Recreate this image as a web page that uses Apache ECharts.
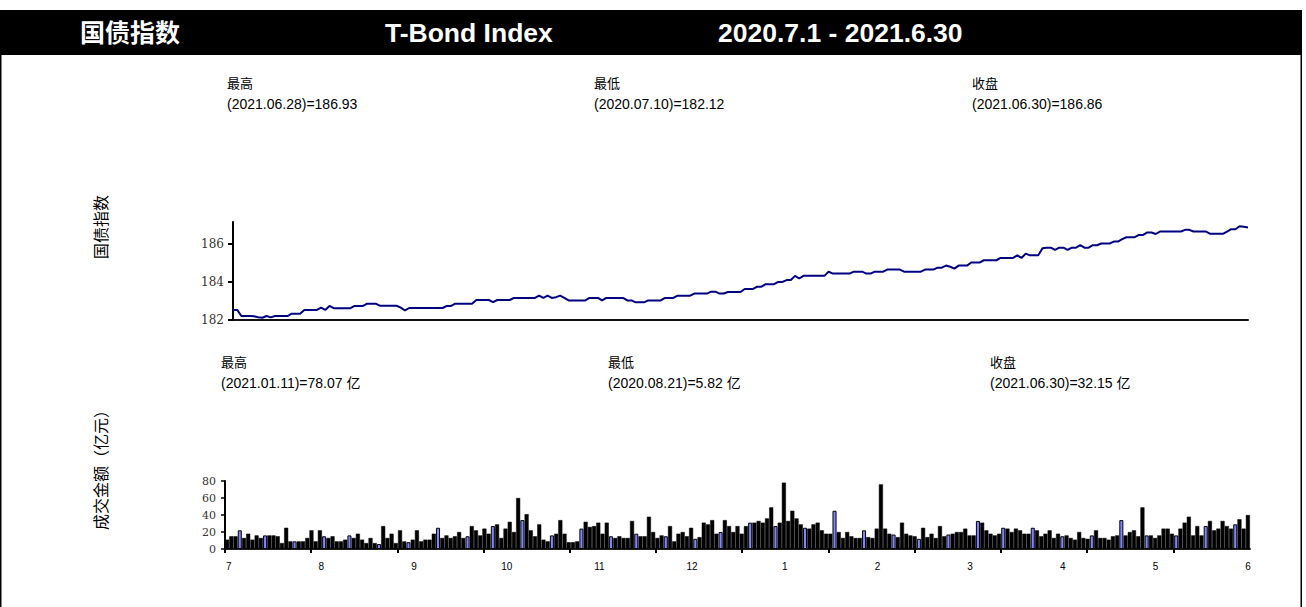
<!DOCTYPE html>
<html><head><meta charset="utf-8">
<script src="https://cdn.jsdelivr.net/npm/echarts@6/dist/echarts.min.js"></script>
<style>html,body{margin:0;padding:0;background:#fff}#c{width:1306px;height:607px}</style>
</head><body><div id="c"></div>
<script>
// ---- data ----
const lineValues = [
182.53,182.53,182.21,182.21,182.21,182.20,182.14,182.12,182.21,182.14,
182.21,182.21,182.21,182.21,182.33,182.33,182.33,182.53,182.53,182.53,
182.53,182.65,182.53,182.74,182.62,182.62,182.62,182.62,182.62,182.74,
182.74,182.74,182.86,182.86,182.86,182.75,182.75,182.75,182.75,182.75,
182.65,182.50,182.63,182.63,182.63,182.63,182.63,182.63,182.63,182.63,
182.63,182.74,182.74,182.86,182.86,182.86,182.86,182.86,183.05,183.05,
183.05,183.05,182.94,183.05,183.05,183.05,183.05,183.16,183.16,183.16,
183.16,183.16,183.16,183.28,183.16,183.28,183.16,183.20,183.28,183.16,
183.03,183.03,183.03,183.03,183.03,183.16,183.16,183.16,183.03,183.16,
183.16,183.16,183.16,183.16,183.03,183.03,182.93,182.93,182.93,183.03,
183.03,183.03,183.03,183.16,183.16,183.16,183.28,183.28,183.28,183.28,
183.39,183.39,183.39,183.39,183.49,183.49,183.39,183.39,183.47,183.47,
183.47,183.47,183.63,183.63,183.63,183.75,183.75,183.88,183.88,183.88,
184.00,184.00,184.10,184.10,184.32,184.18,184.32,184.32,184.32,184.32,
184.32,184.32,184.54,184.44,184.44,184.44,184.44,184.44,184.54,184.54,
184.54,184.44,184.44,184.54,184.54,184.54,184.65,184.65,184.65,184.65,
184.54,184.54,184.54,184.54,184.54,184.65,184.65,184.65,184.75,184.75,
184.86,184.80,184.70,184.86,184.86,184.86,185.02,185.02,185.02,185.14,
185.14,185.14,185.14,185.26,185.26,185.26,185.26,185.40,185.26,185.49,
185.40,185.40,185.40,185.77,185.80,185.80,185.68,185.80,185.80,185.68,
185.80,185.80,185.93,185.80,185.80,185.93,185.93,186.02,186.02,186.02,
186.12,186.12,186.25,186.35,186.35,186.35,186.47,186.47,186.60,186.60,
186.52,186.65,186.65,186.65,186.65,186.65,186.65,186.74,186.74,186.65,
186.65,186.65,186.65,186.53,186.53,186.53,186.53,186.65,186.77,186.77,
186.93,186.90,186.86
];
const volumeValues = [
11,15,15,22,13,18,11,16,13,16,
16,16,15,7,25,9,9,9,9,13,
22,9,22,15,13,15,9,9,11,16,
13,18,11,7,13,7,5.82,27,13,18,
7,22,9,8,11,22,9,11,11,18,
25,13,16,13,15,20,13,15,27,22,
16,24,18,27,29,13,24,32,20,60,
34,41,22,15,29,11,9,16,18,34,
18,8,8,9,24,32,26,27,31,18,
31,15,13,15,13,13,33,18,15,15,
38,20,13,16,15,27,9,18,20,15,
25,12,14,31,29,34,18,20,34,27,
20,27,18,27,31,31,33,31,36,49,
27,31,78.07,33,45,36,29,25,24,29,
31,22,18,18,45,20,13,20,15,13,
13,22,14,13,24,76,24,18,17,14,
31,18,16,15,12,25,14,18,13,27,
15,17,18,20,20,24,16,16,33,31,
22,18,16,18,25,24,20,24,22,18,
18,25,22,15,18,22,13,18,15,16,
13,11,20,13,12,16,22,13,13,11,
15,16,34,16,20,22,15,49,16,16,
13,16,24,24,18,16,24,31,38,16,
27,16,27,33,22,24,33,27,24,29,
35,24,40
];
const blueBars = [3,9,16,23,29,36,43,50,57,63,70,77,84,91,97,104,111,117,124,130,137,144,151,158,164,171,178,184,191,198,205,212,218,225,232,239];
const monthLabels = ['7','8','9','10','11','12','1','2','3','4','5','6'];
const indexTicks = [182,184,186];
const volumeTicks = [0,20,40,60,80];
const headerTexts = ['国债指数','T-Bond Index','2020.7.1 - 2021.6.30'];
const indexStats = [['最高','(2021.06.28)=186.93'],['最低','(2020.07.10)=182.12'],['收盘','(2021.06.30)=186.86']];
const volumeStats = [['最高','(2021.01.11)=78.07 亿'],['最低','(2020.08.21)=5.82 亿'],['收盘','(2021.06.30)=32.15 亿']];
const axisNames = ['国债指数','成交金额（亿元）'];

// ---- chart ----
const chart = echarts.init(document.getElementById('c'), null, {renderer:'svg', width:1306, height:607});
const cats = lineValues.map((_, i) => i);
const SANS = 'Arial, "Liberation Sans", "Noto Sans CJK SC", sans-serif';
const SERIF = '"DejaVu Serif", "Liberation Serif", serif';
const blueSet = new Set(blueBars);
const barData = volumeValues.map((v, i) => blueSet.has(i)
  ? {value: v, itemStyle: {color: '#8484ff', borderColor: '#000', borderWidth: 1}}
  : v);
const monthPos = monthLabels.map((_, i) => i);

const g = [];
g.push({type:'rect', shape:{x:0,y:10,width:1302,height:45}, style:{fill:'#000'}, silent:true});
g.push({type:'line', shape:{x1:0.75,y1:10,x2:0.75,y2:607}, style:{stroke:'#000',lineWidth:1.5}, silent:true});
g.push({type:'line', shape:{x1:1301.25,y1:10,x2:1301.25,y2:607}, style:{stroke:'#000',lineWidth:1.5}, silent:true});
const hx = [80, 385, 718];
const hf = ['bold 25px ' + SANS, 'bold 26.5px ' + SANS, 'bold 26.5px ' + SANS];
headerTexts.forEach((t, i) => g.push({type:'text', x:hx[i], y:33, style:{text:t, fill:'#fff', font:hf[i], textAlign:'left', textVerticalAlign:'middle'}, silent:true}));
const sx1 = [227, 594, 972], sx2 = [221, 608, 990];
indexStats.forEach((s, i) => {
  g.push({type:'text', x:sx1[i], y:83, style:{text:s[0], fill:'#000', font:'13px ' + SANS, textAlign:'left', textVerticalAlign:'middle'}});
  g.push({type:'text', x:sx1[i], y:104, style:{text:s[1], fill:'#000', font:'14px ' + SANS, textAlign:'left', textVerticalAlign:'middle'}});
});
volumeStats.forEach((s, i) => {
  g.push({type:'text', x:sx2[i], y:362, style:{text:s[0], fill:'#000', font:'13px ' + SANS, textAlign:'left', textVerticalAlign:'middle'}});
  g.push({type:'text', x:sx2[i], y:383, style:{text:s[1], fill:'#000', font:'14px ' + SANS, textAlign:'left', textVerticalAlign:'middle'}});
});
g.push({type:'text', x:100, y:227, rotation:Math.PI/2, style:{text:axisNames[0], fill:'#000', font:'16px "Noto Sans CJK SC", sans-serif', textAlign:'center', textVerticalAlign:'middle'}});
g.push({type:'text', x:100, y:466, rotation:Math.PI/2, style:{text:axisNames[1], fill:'#000', font:'16px "Noto Sans CJK SC", sans-serif', textAlign:'center', textVerticalAlign:'middle'}});

chart.setOption({
  animation:false,
  backgroundColor:'#fff',
  grid:[
    {left:233, right:58, top:222, height:98},
    {left:225, right:56, top:481, height:68}
  ],
  xAxis:[
    {type:'category', gridIndex:0, data:cats, boundaryGap:false, position:'bottom',
     axisLine:{onZero:false, lineStyle:{color:'#111', width:2}}, axisTick:{show:false}, axisLabel:{show:false}, splitLine:{show:false}},
    {type:'category', gridIndex:1, data:cats, boundaryGap:true, position:'bottom',
     axisLine:{onZero:false, lineStyle:{color:'#222', width:2}}, axisTick:{show:false}, axisLabel:{show:false}, splitLine:{show:false}},
    {type:'value', gridIndex:1, min:-0.04, max:11.02, position:'bottom',
     axisLine:{show:false, onZero:false}, axisTick:{show:false}, splitLine:{show:false},
     axisLabel:{customValues:monthPos, formatter:v => monthLabels[Math.round(v)], fontSize:10, fontFamily:SANS, color:'#000', margin:12}},
    {type:'value', gridIndex:1, min:0, max:11.89, position:'bottom',
     axisLine:{show:false, onZero:false}, splitLine:{show:false}, axisLabel:{show:false},
     axisTick:{show:true, customValues:monthPos, length:4, lineStyle:{color:'#000', width:2}}}
  ],
  yAxis:[
    {type:'value', gridIndex:0, min:182, max:187.15,
     axisLine:{show:true, onZero:false, lineStyle:{color:'#000', width:2}},
     axisTick:{show:true, customValues:indexTicks, length:5, lineStyle:{color:'#000', width:2}},
     axisLabel:{customValues:indexTicks, fontFamily:SERIF, fontSize:12, color:'#333', margin:9},
     splitLine:{show:false}},
    {type:'value', gridIndex:1, min:0, max:80, interval:20,
     axisLine:{show:true, onZero:false, lineStyle:{color:'#000', width:2}},
     axisTick:{show:true, customValues:volumeTicks, length:4, lineStyle:{color:'#000', width:1.5}},
     axisLabel:{customValues:volumeTicks, fontFamily:SERIF, fontSize:11, color:'#333', margin:9},
     splitLine:{show:false}}
  ],
  series:[
    {type:'line', xAxisIndex:0, yAxisIndex:0, data:lineValues, symbol:'none',
     lineStyle:{color:'#000080', width:2}},
    {type:'bar', xAxisIndex:1, yAxisIndex:1, data:barData, barCategoryGap:'4%',
     itemStyle:{color:'#000', borderColor:'#000', borderWidth:0.5}}
  ],
  graphic:g
});
</script></body></html>
